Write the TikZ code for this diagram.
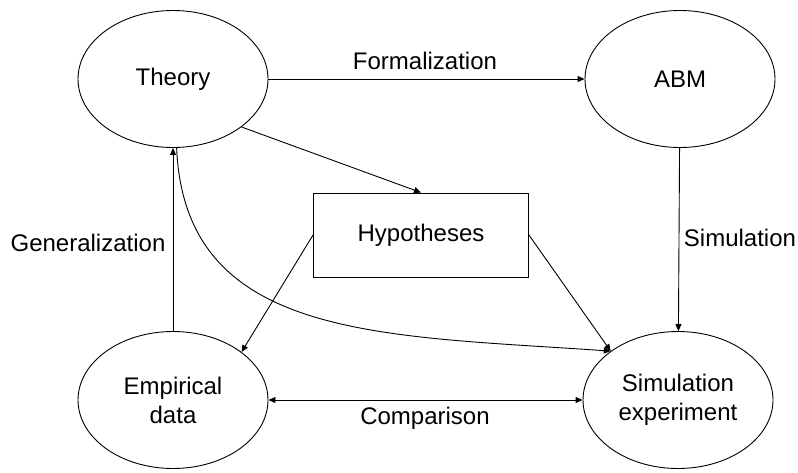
\documentclass[tikz,border=0pt]{standalone}
\usepackage{fontspec}
\setmainfont{Liberation Sans}
\usetikzlibrary{shapes.geometric,arrows.meta}
\begin{document}
\begin{tikzpicture}[x=1pt,y=-1pt,
  every node/.style={font=\fontsize{24}{29}\selectfont},
  oval/.style={ellipse,draw,line width=0.9pt,minimum width=190pt,minimum height=137pt,inner sep=0pt,align=center},
  hbox/.style={rectangle,draw,line width=0.9pt,minimum width=215pt,minimum height=84pt,inner sep=0pt},
  conn/.style={line width=0.9pt,-{Triangle[length=7pt,width=6pt]}},
  lbl/.style={inner sep=0pt}]
\useasboundingbox (0,0) rectangle (798,472);
\node[oval] (theory) at (173,79) {Theory};
\node[oval] (abm) at (680,79) {ABM};
\node[oval] (emp) at (173,400) {Empirical\\data};
\node[oval] (sim) at (678,400) {Simulation\\experiment};
\node[hbox] (hyp) at (421,235) {Hypotheses};
\draw[conn] (theory) -- (abm);
\draw[conn] (abm) -- (sim);
\draw[conn] (emp) -- (theory);
\draw[conn,{Triangle[length=7pt,width=6pt]}-{Triangle[length=7pt,width=6pt]}] (emp) -- (sim);
\draw[conn] (theory.-35) -- (hyp.north);
\draw[conn] (hyp.west) -- (emp.35);
\draw[conn] (hyp.east) -- (sim.144);
\draw[conn] (theory.-87) .. controls (185,340) and (380,335) .. (sim.144);
\node[lbl] (lf) at (425,61) {Formalization};
\node[lbl] (ls) at (740,238) {Simulation};
\node[lbl] (lg) at (88,243) {Generalization};
\node[lbl] (lc) at (425,418) {Comparison};
\end{tikzpicture}
\end{document}
